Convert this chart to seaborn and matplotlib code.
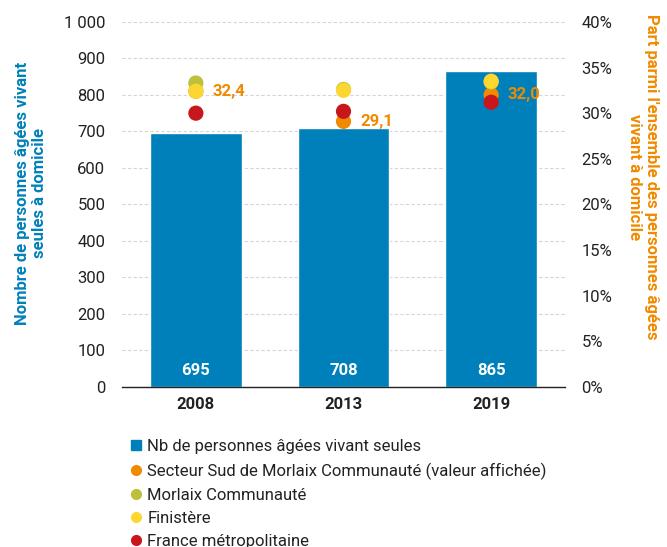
import numpy as np
import pandas as pd
import matplotlib
matplotlib.use("Agg")
import matplotlib.pyplot as plt
from matplotlib.ticker import FuncFormatter, MultipleLocator
from matplotlib.lines import Line2D
import seaborn as sns

# data
years = ["2008", "2013", "2019"]
nb_seules = [695, 708, 865]
secteur_sud = [32.4, 29.1, 32.0]
morlaix_co = [33.3, 32.6, 33.4]
finistere = [32.4, 32.5, 33.5]
france = [30.0, 30.2, 31.2]

blue = "#0080BA"
orange = "#F08A00"
green = "#BDC03A"
yellow = "#FDD731"
red = "#C8161D"

sns.set_style("white")
plt.rcParams["font.family"] = ["Roboto", "DejaVu Sans"]

fig = plt.figure(figsize=(6.67, 5.47), dpi=100)
ax = fig.add_axes([0.183, 0.2925, 0.664, 0.6675])

bars = pd.DataFrame({"year": years, "nb": nb_seules})
sns.barplot(data=bars, x="year", y="nb", color=blue, saturation=1,
            width=0.62, ax=ax, zorder=2)
ax.set_ylim(0, 1000)
ax.set_xlim(-0.5, 2.5)
ax.yaxis.set_major_locator(MultipleLocator(100))
ax.yaxis.set_major_formatter(FuncFormatter(lambda v, p: f"{int(v):,}".replace(",", " ")))
ax.grid(axis="y", color="#d5d5d5", linestyle=(0, (3, 2)), linewidth=0.8, zorder=0)
ax.set_axisbelow(True)
for s in ["top", "left", "right"]:
    ax.spines[s].set_visible(False)
ax.spines["bottom"].set_color("#222222")
ax.spines["bottom"].set_linewidth(1)
ax.tick_params(axis="y", length=0, pad=12, labelsize=12, labelcolor="#222222")
ax.tick_params(axis="x", length=0, pad=7, labelsize=12, labelcolor="#222222")
for lab in ax.get_xticklabels():
    lab.set_fontweight("bold")
ax.set_xticks([-0.5, 2.5], minor=True)
ax.tick_params(axis="x", which="minor", length=7, direction="inout", color="#222222")
ax.set_xlabel("")
ax.set_ylabel("Nombre de personnes âgées vivant\nseules à domicile", color=blue,
              fontweight="bold", fontsize=12, linespacing=1.15)
ax.yaxis.set_label_coords(-0.17, 0.53)

for i, v in enumerate(nb_seules):
    ax.text(i, 44, f"{v}", ha="center", va="center", color="white",
            fontweight="bold", fontsize=12, zorder=5)

ax2 = ax.twinx()
ax2.set_ylim(0, 40)
ax2.yaxis.set_major_locator(MultipleLocator(5))
ax2.yaxis.set_major_formatter(FuncFormatter(lambda v, p: f"{int(v)}%"))
ax2.tick_params(axis="y", length=0, pad=12, labelsize=12, labelcolor="#222222")
for s in ["top", "left", "right", "bottom"]:
    ax2.spines[s].set_visible(False)
ax2.set_ylabel("Part parmi l'ensemble des personnes âgées\nvivant à domicile", color=orange,
               fontweight="bold", fontsize=12, rotation=270, linespacing=1.15)
ax2.yaxis.label.set_verticalalignment("bottom")
ax2.yaxis.set_label_coords(1.14, 0.575)

xpos = np.arange(len(years))
series = [(secteur_sud, orange), (morlaix_co, green), (finistere, yellow), (france, red)]
for vals, col in series:
    d = pd.DataFrame({"x": xpos, "v": vals})
    sns.scatterplot(data=d, x="x", y="v", color=col, s=120, edgecolor="none",
                    ax=ax2, zorder=4, legend=False)
ax2.set_xlim(-0.5, 2.5)
ax2.set_xlabel("")

for i, v in enumerate(secteur_sud):
    ax2.annotate(f"{v:.1f}".replace(".", ","), (i, v), xytext=(12, 0),
                 textcoords="offset points", ha="left", va="center",
                 color=orange, fontweight="bold", fontsize=12, zorder=6)

handles = [
    Line2D([], [], marker="s", linestyle="", color=blue, markersize=7),
    Line2D([], [], marker="o", linestyle="", color=orange, markersize=7),
    Line2D([], [], marker="o", linestyle="", color=green, markersize=7),
    Line2D([], [], marker="o", linestyle="", color=yellow, markersize=7),
    Line2D([], [], marker="o", linestyle="", color=red, markersize=7),
]
labels = ["Nb de personnes âgées vivant seules",
          "Secteur Sud de Morlaix Communauté (valeur affichée)",
          "Morlaix Communauté", "Finistère", "France métropolitaine"]
fig.legend(handles, labels, loc="upper left", bbox_to_anchor=(0.197, 0.197),
           frameon=False, fontsize=12, handlelength=0.6, handletextpad=0.35,
           labelspacing=0.48, borderaxespad=0, borderpad=0, labelcolor="#222222")

fig.savefig("out.png", dpi=100)
